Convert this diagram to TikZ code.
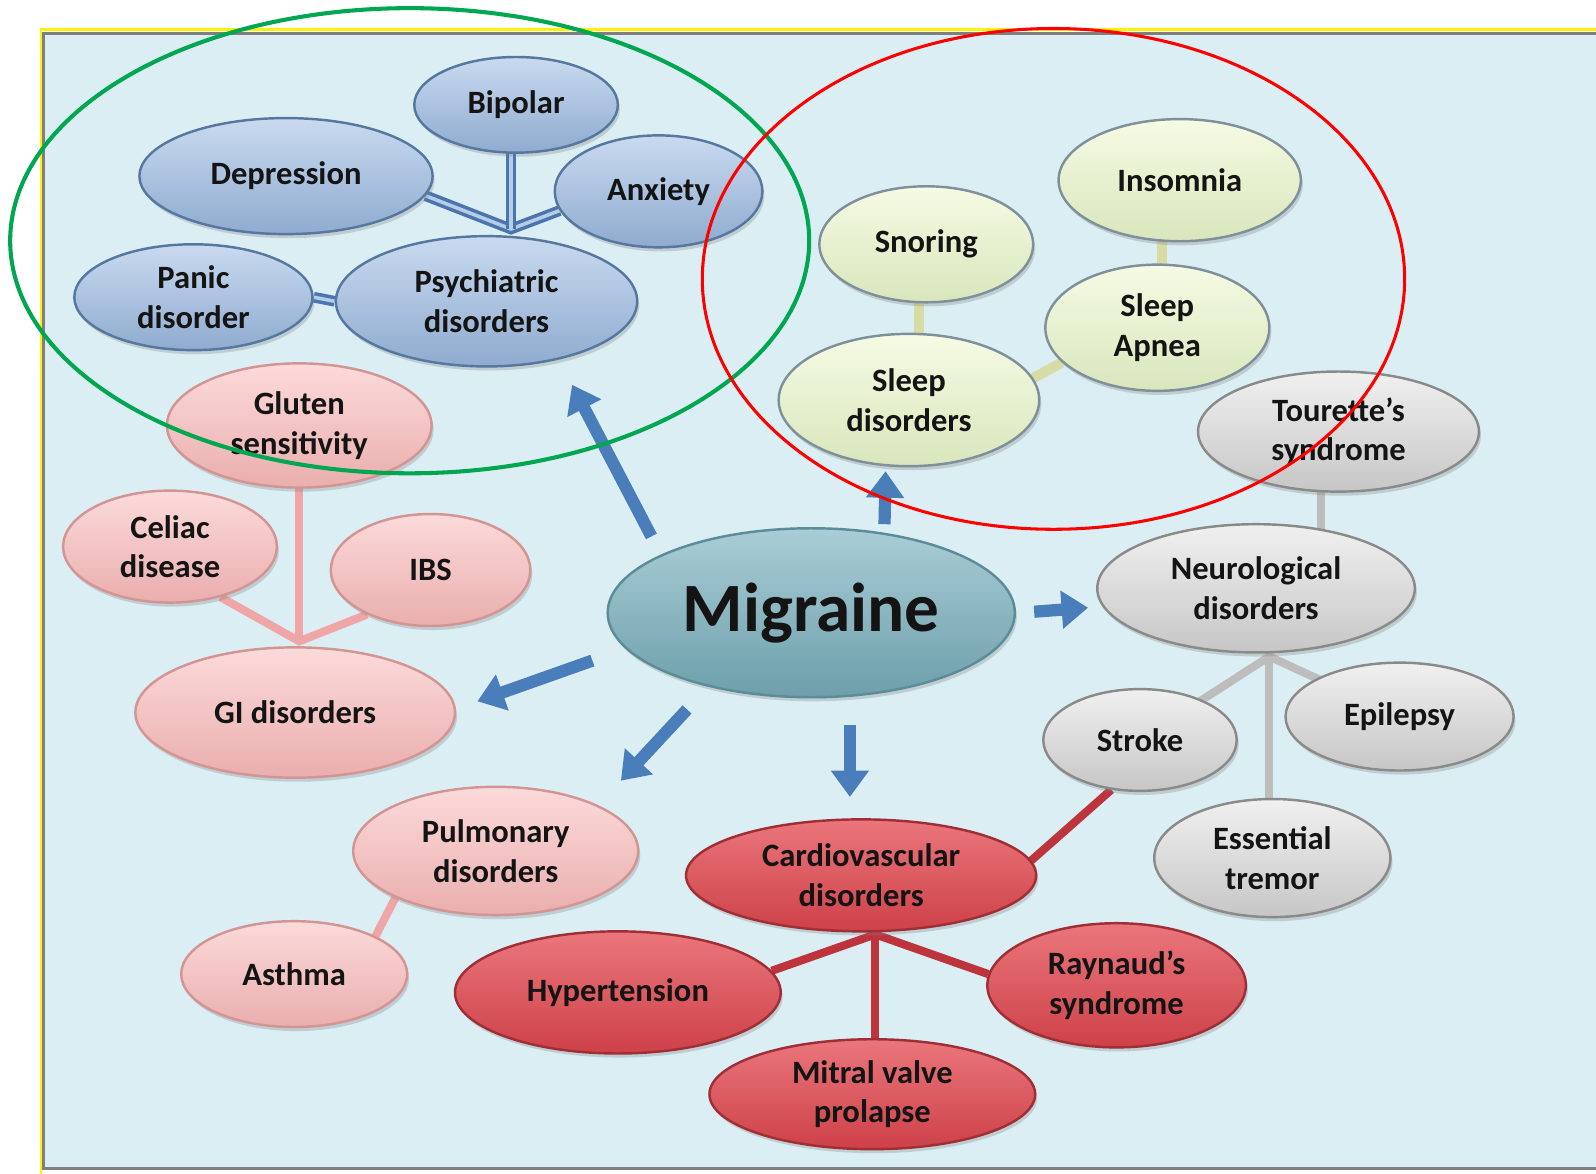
\documentclass[tikz,border=0pt]{standalone}
\usepackage{fontspec}
\setmainfont{Carlito}
\usetikzlibrary{shapes.geometric,arrows.meta,shadows}
\pgfdeclarelayer{bg}
\pgfdeclarelayer{conn}
\pgfsetlayers{bg,conn,main}
\definecolor{panelfill}{HTML}{DBEEF4}
\definecolor{panelline}{HTML}{7F7F7F}
\definecolor{yel}{HTML}{FFF200}
\definecolor{bluF}{HTML}{98B6DC}
\definecolor{bluT}{HTML}{C9DAF0}
\definecolor{bluD}{HTML}{56779F}
\definecolor{bluC}{HTML}{4A75AE}
\definecolor{grnF}{HTML}{E4F2C6}
\definecolor{grnT}{HTML}{F5FBE4}
\definecolor{grnD}{HTML}{7F909A}
\definecolor{grnC}{HTML}{D6DCA4}
\definecolor{gryF}{HTML}{D3D3D3}
\definecolor{gryT}{HTML}{F0F0F0}
\definecolor{gryD}{HTML}{8A8A8A}
\definecolor{gryC}{HTML}{BDBDBD}
\definecolor{pnkF}{HTML}{F6B7B7}
\definecolor{pnkT}{HTML}{FCDADA}
\definecolor{pnkD}{HTML}{D39494}
\definecolor{pnkC}{HTML}{F0A6A6}
\definecolor{redF}{HTML}{DB454D}
\definecolor{redT}{HTML}{EA767C}
\definecolor{redD}{HTML}{A02E36}
\definecolor{redC}{HTML}{BE343C}
\definecolor{migF}{HTML}{74A9B5}
\definecolor{migT}{HTML}{A9CDD6}
\definecolor{migD}{HTML}{5B8C98}
\definecolor{arr}{HTML}{4A7EBB}
\definecolor{ringG}{HTML}{00A650}
\definecolor{ringR}{HTML}{FF0000}
\tikzset{
  bubble/.style={ellipse, inner sep=0pt, align=center, line width=2.4pt,
    text=black!92, font=\fontsize{32}{39}\selectfont\bfseries,
    drop shadow={shadow xshift=2pt, shadow yshift=-4pt, opacity=0.3}},
  sz/.style 2 args={minimum width=#1pt, minimum height=#2pt},
  bluebub/.style={bubble, draw=bluD, top color=bluT, middle color=bluF, bottom color=bluF!94!black},
  grnbub/.style={bubble, draw=grnD, top color=grnT, middle color=grnF, bottom color=grnF!95!black},
  grybub/.style={bubble, draw=gryD, top color=gryT, middle color=gryF, bottom color=gryF!94!black},
  pnkbub/.style={bubble, draw=pnkD, top color=pnkT, middle color=pnkF, bottom color=pnkF!95!black},
  redbub/.style={bubble, draw=redD, top color=redT, middle color=redF, bottom color=redF!94!black},
  migbub/.style={bubble, draw=migD, top color=migT, middle color=migF, bottom color=migF!94!black},
  bluecon/.style={draw=bluC, line width=3.5pt, double=bluF!70!white, double distance=3.5pt},
  grncon/.style={draw=grnC, line width=10pt},
  grycon/.style={draw=gryC, line width=8pt},
  pnkcon/.style={draw=pnkC, line width=8pt},
  redcon/.style={draw=redC, line width=8pt},
  bigarrow/.style={draw=arr, line width=12pt, -{Triangle[length=26pt,width=36pt]}},
}
\begin{document}
\begin{tikzpicture}[x=1pt,y=-1pt]
\useasboundingbox (0,0) rectangle (1568,1153);
\begin{pgfonlayer}{bg}
  \fill[white] (0,0) rectangle (1568,1153);
  \draw[yel, line width=2pt] (40,1153) -- (40,29) -- (1568,29);
  \draw[panelline, fill=panelfill, line width=3pt] (43,33) rectangle (1575,1148);
\end{pgfonlayer}

% Psychiatric group
\node[bluebub, sz={200}{94}] (bipolar) at (507,103) {Bipolar};
\node[bluebub, sz={288}{114}] (depr) at (281,173) {Depression};
\node[bluebub, sz={204}{110}] (anx) at (647,188) {Anxiety};
\node[bluebub, sz={234}{104}] (panic) at (190,292) {Panic\\disorder};
\node[bluebub, sz={296}{128}] (psy) at (478,296) {Psychiatric\\disorders};
\coordinate (jpsy) at (502,225);

% Sleep group
\node[grnbub, sz={238}{120}] (insom) at (1159,177) {Insomnia};
\node[grnbub, sz={210}{114}] (snor) at (910,240) {Snoring};
\node[grnbub, sz={220}{124}] (apnea) at (1137,322) {Sleep\\Apnea};
\node[grnbub, sz={256}{130}] (sleep) at (893,393) {Sleep\\disorders};

% Neurological group
\node[grybub, sz={276}{118}] (tour) at (1315,424) {Tourette’s\\syndrome};
\node[grybub, sz={312}{126}] (neuro) at (1234,578) {Neurological\\disorders};
\node[grybub, sz={224}{106}] (epi) at (1375,704) {Epilepsy};
\node[grybub, sz={190}{100}] (stroke) at (1120,727) {Stroke};
\node[grybub, sz={232}{116}] (tremor) at (1250,843) {Essential\\tremor};
\coordinate (jneu) at (1247,645);

% GI group
\node[pnkbub, sz={260}{122}] (gluten) at (294,418) {Gluten\\sensitivity};
\node[pnkbub, sz={210}{110}] (celiac) at (167,537) {Celiac\\disease};
\node[pnkbub, sz={196}{110}] (ibs) at (423,560) {IBS};
\node[pnkbub, sz={314}{128}] (gi) at (290,700) {GI disorders};
\coordinate (jgi) at (294,630);

% Pulmonary group
\node[pnkbub, sz={280}{126}] (pulm) at (487,836) {Pulmonary\\disorders};
\node[pnkbub, sz={222}{104}] (asthma) at (289,957) {Asthma};

% Cardiovascular group
\node[redbub, sz={344}{110}] (cardio) at (846,860) {Cardiovascular\\disorders};
\node[redbub, sz={320}{120}] (hyper) at (607,975) {Hypertension};
\node[redbub, sz={254}{122}] (rayn) at (1097,968) {Raynaud’s\\syndrome};
\node[redbub, sz={320}{108}] (mitral) at (857,1075) {Mitral valve\\prolapse};
\coordinate (jcar) at (860,918);

% Migraine
\node[migbub, sz={400}{166}, font=\fontsize{68}{80}\selectfont\bfseries] (mig) at (797,602) {Migraine};

% arrow end points
\coordinate (a1s) at (640,527); \coordinate (a1e) at (562,378);
\coordinate (a2s) at (869,515); \coordinate (a2e) at (870,463);
\coordinate (a3s) at (1016,601); \coordinate (a3e) at (1069,597);
\coordinate (a4s) at (582,649); \coordinate (a4e) at (469,689);
\coordinate (a5s) at (675,697); \coordinate (a5e) at (610,767);
\coordinate (a6s) at (835,712); \coordinate (a6e) at (835,783);

\begin{pgfonlayer}{conn}
  % psychiatric
  \draw[bluecon] (depr.-8) -- (jpsy) -- (anx.191);
  \draw[bluecon] (jpsy) -- (jpsy |- bipolar.center);
  \draw[bluecon] (panic.east) -- (psy.west);
  % sleep
  \draw[grncon] ([xshift=5pt]apnea.center) -- ++(0,-150);
  \draw[grncon] ([xshift=-7pt]snor.center) -- ++(0,150);
  \draw[grncon] (sleep.10) -- (apnea.200);
  % neuro
  \draw[grycon] ([xshift=-17pt]tour.center) -- ++(0,150);
  \draw[grycon] (stroke.center) -- (jneu) -- (epi.center);
  \draw[grycon] (jneu) -- (jneu |- tremor.center);
  % GI
  \draw[pnkcon] (jgi) -- (jgi |- gluten.center);
  \draw[pnkcon] (celiac.-45) -- (jgi) -- (ibs.215);
  \draw[pnkcon] (pulm.205) -- (asthma.25);
  % cardio
  \draw[redcon] (hyper.8) -- (jcar) -- (rayn.175);
  \draw[redcon] (jcar) -- (jcar |- mitral.center);
  \draw[redcon] (stroke.240) -- (cardio.5);
  % arrows
  \draw[bigarrow] (a1s) -- (a1e);
  \draw[bigarrow] (a2s) -- (a2e);
  \draw[bigarrow] (a3s) -- (a3e);
  \draw[bigarrow] (a4s) -- (a4e);
  \draw[bigarrow] (a5s) -- (a5e);
  \draw[bigarrow] (a6s) -- (a6e);
\end{pgfonlayer}

% highlight rings
\draw[ringG, line width=4pt] (402.5,236.5) ellipse [x radius=392.5pt, y radius=228.5pt];
\draw[ringR, line width=3pt] (1035,274) ellipse [x radius=345pt, y radius=246pt];
\end{tikzpicture}
\end{document}
